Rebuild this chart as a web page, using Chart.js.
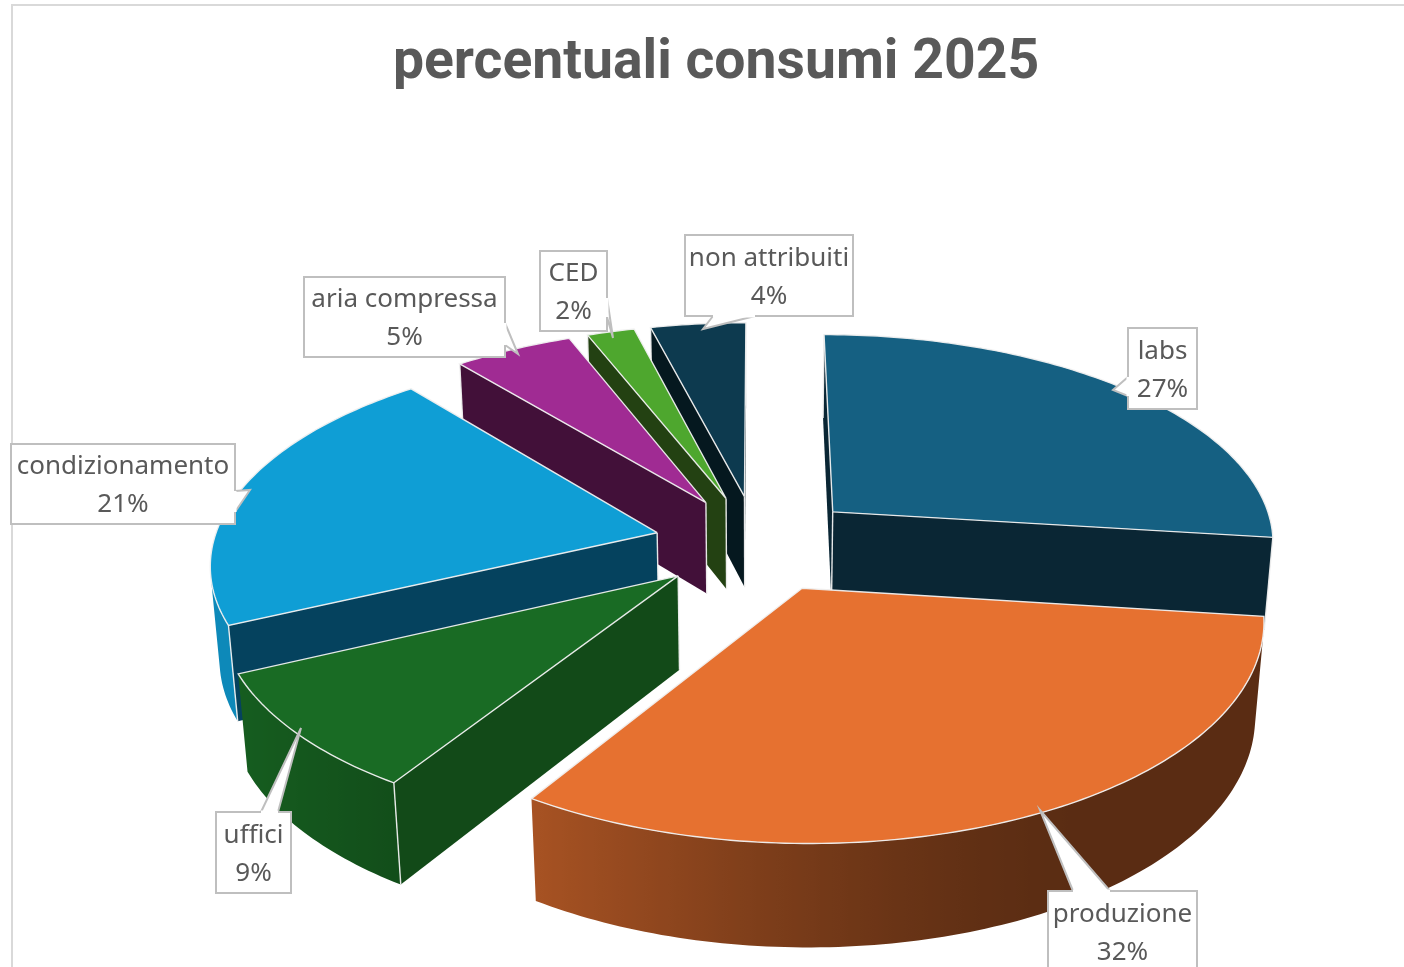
<!DOCTYPE html>
<html lang="it">
<head>
<meta charset="utf-8">
<title>percentuali consumi 2025</title>
<script src="https://cdn.jsdelivr.net/npm/chart.js@4"></script>
<style>
  html, body { margin: 0; background: #fff; overflow: hidden; }
  #frame {
    position: absolute; left: 11px; top: 4px; width: 1500px; height: 1100px;
    border-left: 2px solid #d9d9d9; border-top: 2px solid #d9d9d9;
  }
  #pie { position: absolute; left: 0; top: 0; }
</style>
</head>
<body>
<div id="frame"></div>
<canvas id="pie" width="1404" height="967"></canvas>
<script>
const categories = ["labs", "produzione", "uffici", "condizionamento", "aria compressa", "CED", "non attribuiti"];
const consumi = [27, 32, 9, 21, 5, 2, 4];

const topColors = ["#156082", "#e67130", "#196b24", "#0f9ed5", "#a02b93", "#4ea72e", "#0d3a4f"];
const cutColors = ["#0a2634", "#5a2a14", "#124a18", "#05425e", "#421039", "#234112", "#05181f"];

// label boxes: x, y, w, h and the pointer as three points
const callouts = [
  { box: [1128, 328, 69, 81], ptr: [[1128, 377], [1113, 390], [1128, 396]] },
  { box: [1048, 891, 149, 81], ptr: [[1073, 891], [1040, 810], [1110, 891]] },
  { box: [216, 812, 75, 81], ptr: [[261, 812], [301, 728], [278, 812]] },
  { box: [11, 444, 224, 80], ptr: [[235, 491], [250, 490], [235, 512]] },
  { box: [304, 277, 201, 80], ptr: [[505, 323], [518, 354], [505, 345]] },
  { box: [540, 251, 67, 80], ptr: [[607, 298], [613, 338], [607, 317]] },
  { box: [685, 235, 168, 81], ptr: [[755, 316], [703, 329], [713, 316]] }
];

// camera over the pie
const tilt = 28 * Math.PI / 180;
const persp = 0.15;
const thickness = 0.24;
const shiftX = 41;

function hexRgb(hex) {
  const n = parseInt(hex.slice(1), 16);
  return [n >> 16, (n >> 8) & 255, n & 255];
}

// outer wall gets darker going round to the right
function rimColor(hex, angle) {
  let deg = (angle + Math.PI / 2) * 180 / Math.PI;
  deg = ((deg % 360) + 360) % 360;
  let s = Math.min(1, Math.max(0, (deg - 145) / 105));
  s = s * s * (3 - 2 * s);
  const f = 0.39 + 0.48 * s;
  return "rgb(" + hexRgb(hex).map((c) => Math.round(c * f)).join(",") + ")";
}

const pie3d = {
  id: "pie3d",
  beforeDatasetDraw(chart, args) {
    const ctx = chart.ctx;
    const arcs = args.meta.data;
    const R = arcs[0].outerRadius;
    const cx = arcs[0].x + shiftX;
    const cy = arcs[0].y;
    const h = thickness * R;
    const sinT = Math.sin(tilt), cosT = Math.cos(tilt);
    const camY = (R / persp) * cosT;

    const project = (px, py, z) => {
      const v = py * sinT + z * cosT;
      const d = py * cosT - z * sinT;
      const w = 1 / (1 - persp * d / R);
      return [cx + px * w, cy + v * w];
    };

    const fillPoly = (pts, color) => {
      ctx.beginPath();
      pts.forEach((p, i) => (i ? ctx.lineTo(p[0], p[1]) : ctx.moveTo(p[0], p[1])));
      ctx.closePath();
      ctx.fillStyle = color;
      ctx.fill();
    };
    const strokeLine = (pts) => {
      ctx.beginPath();
      pts.forEach((p, i) => (i ? ctx.lineTo(p[0], p[1]) : ctx.moveTo(p[0], p[1])));
      ctx.strokeStyle = "rgba(240,240,240,0.95)";
      ctx.lineWidth = 1.4;
      ctx.stroke();
    };

    // far slices first, nearer ones paint over them
    const order = arcs.map((a, i) => i).sort((p, q) => {
      const mid = (a) => (a.startAngle + a.endAngle) / 2;
      return Math.sin(mid(arcs[p])) - Math.sin(mid(arcs[q]));
    });

    order.forEach((i) => {
      const arc = arcs[i];
      const a0 = arc.startAngle, a1 = arc.endAngle;
      const mid = (a0 + a1) / 2;
      const off = arc.options.offset;
      const tx = Math.cos(mid) * off, ty = Math.sin(mid) * off;
      const rimAt = (t) => [tx + R * Math.cos(t), ty + R * Math.sin(t)];

      const steps = Math.max(4, Math.ceil((a1 - a0) * 180 / Math.PI));
      const angles = [];
      for (let s = 0; s <= steps; s++) angles.push(a0 + (a1 - a0) * s / steps);

      // straight cut faces
      const p0 = rimAt(a0), p1 = rimAt(a1);
      const startSeen = (0 - tx) * Math.sin(a0) + (camY - ty) * -Math.cos(a0) > 0;
      const endSeen = (0 - tx) * -Math.sin(a1) + (camY - ty) * Math.cos(a1) > 0;
      if (startSeen) {
        fillPoly([project(tx, ty, 0), project(p0[0], p0[1], 0), project(p0[0], p0[1], h), project(tx, ty, h)], cutColors[i]);
      }
      if (endSeen) {
        fillPoly([project(tx, ty, 0), project(p1[0], p1[1], 0), project(p1[0], p1[1], h), project(tx, ty, h)], cutColors[i]);
      }

      // outer wall, only the part facing the camera, shaded left to right
      const seen = angles.filter((t) => {
        const p = rimAt(t);
        return (0 - p[0]) * Math.cos(t) + (camY - p[1]) * Math.sin(t) > 0;
      });
      if (seen.length > 1) {
        const upper = seen.map((t) => { const p = rimAt(t); return project(p[0], p[1], 0); });
        const lower = seen.map((t) => { const p = rimAt(t); return project(p[0], p[1], h); });
        const xs = upper.map((p) => p[0]);
        const x0 = Math.min(...xs), x1 = Math.max(...xs);
        const grad = ctx.createLinearGradient(x0, 0, x1, 0);
        seen.forEach((t, s) => grad.addColorStop((xs[s] - x0) / (x1 - x0), rimColor(topColors[i], t)));
        fillPoly(upper.concat(lower.reverse()), grad);
      }

      // upright corners
      if (startSeen || endSeen) strokeLine([project(tx, ty, 0), project(tx, ty, h)]);
      if (startSeen) strokeLine([project(p0[0], p0[1], 0), project(p0[0], p0[1], h)]);
      if (endSeen) strokeLine([project(p1[0], p1[1], 0), project(p1[0], p1[1], h)]);

      // top face
      const topPts = [project(tx, ty, 0)].concat(angles.map((t) => {
        const p = rimAt(t);
        return project(p[0], p[1], 0);
      }));
      fillPoly(topPts, topColors[i]);
      strokeLine(topPts.concat([topPts[0]]));
    });
    return false;
  },
  afterDraw(chart) {
    const ctx = chart.ctx;
    ctx.save();
    ctx.font = '26px "Noto Sans"';
    ctx.textAlign = "center";
    ctx.textBaseline = "middle";
    callouts.forEach((c, i) => {
      const [x, y, w, h] = c.box;
      ctx.fillStyle = "#fff";
      ctx.strokeStyle = "#bfbfbf";
      ctx.lineWidth = 2;
      ctx.fillRect(x, y, w, h);
      ctx.strokeRect(x, y, w, h);
      // pointer sits over the box edge
      ctx.beginPath();
      c.ptr.forEach((p, k) => (k ? ctx.lineTo(p[0], p[1]) : ctx.moveTo(p[0], p[1])));
      ctx.fill();
      ctx.stroke();
      ctx.beginPath();
      ctx.moveTo(c.ptr[0][0], c.ptr[0][1]);
      ctx.lineTo(c.ptr[2][0], c.ptr[2][1]);
      ctx.strokeStyle = "#fff";
      ctx.lineWidth = 3;
      ctx.stroke();
      ctx.fillStyle = "#595959";
      ctx.fillText(categories[i], x + w / 2, y + h / 2 - 17);
      ctx.fillText(consumi[i] + "%", x + w / 2, y + h / 2 + 21);
    });
    ctx.restore();
  }
};

new Chart(document.getElementById("pie"), {
  type: "pie",
  data: {
    labels: categories,
    datasets: [{
      data: consumi,
      backgroundColor: topColors,
      offset: 103
    }]
  },
  options: {
    responsive: false,
    animation: false,
    radius: 444,
    layout: { padding: { left: 28 } },
    plugins: {
      legend: { display: false },
      tooltip: { enabled: false },
      title: {
        display: true,
        text: "percentuali consumi 2025",
        color: "#595959",
        font: { family: "Roboto", size: 55.3, weight: "bold" },
        padding: { top: 31, bottom: 22 }
      }
    }
  },
  plugins: [pie3d]
});
</script>
</body>
</html>
